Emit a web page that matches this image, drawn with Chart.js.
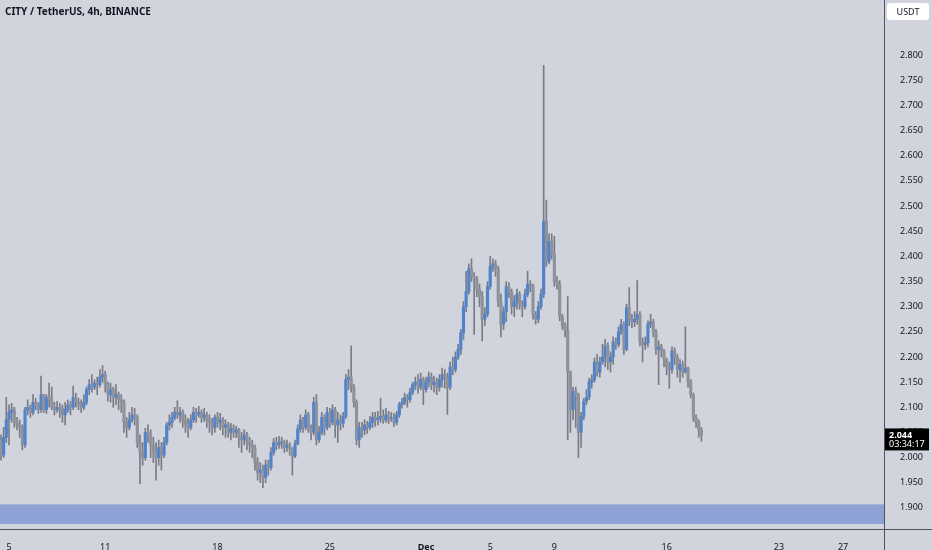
<!DOCTYPE html>
<html>
<head>
<meta charset="utf-8">
<script src="https://cdn.jsdelivr.net/npm/chart.js@4.4.1/dist/chart.umd.min.js"></script>
<style>
  html, body { margin: 0; padding: 0; background: #d1d4dc; }
  #wrap { width: 932px; height: 550px; }
</style>
</head>
<body>
<div id="wrap"><canvas id="chart" width="932" height="550"></canvas></div>
<script>
const symbolTitle = 'CITY / TetherUS, 4h, BINANCE';
const quoteUnit = 'USDT';
const barTimer = '03:34:17';

// x values are days counted from Nov 1 00:00, one candle every 4h
const firstCandleDay = 3.5;
const candleStep = 1 / 6;
const firstOpen = 2.035;

// one row per day (Nov 4 starts at 12:00, Dec 18 ends at 04:00)
const closes = [
  2.005, 2.040, 2.075,
  2.090, 2.095, 2.070, 2.065, 2.060, 2.025,
  2.095, 2.100, 2.090, 2.110, 2.105, 2.095,
  2.125, 2.095, 2.120, 2.115, 2.100, 2.095,
  2.100, 2.098, 2.085, 2.095, 2.105, 2.100,
  2.120, 2.110, 2.105, 2.100, 2.110, 2.135,
  2.145, 2.140, 2.148, 2.145, 2.160, 2.165,
  2.145, 2.125, 2.135, 2.120, 2.125, 2.115,
  2.110, 2.070, 2.060, 2.075, 2.085, 2.080,
  2.030, 2.010, 2.000, 2.050, 2.045, 2.025,
  2.010, 2.000, 2.020, 2.005, 2.030, 2.065,
  2.070, 2.080, 2.090, 2.085, 2.090, 2.075,
  2.065, 2.060, 2.075, 2.090, 2.085, 2.090,
  2.080, 2.085, 2.075, 2.070, 2.060, 2.080,
  2.070, 2.075, 2.060, 2.065, 2.050, 2.058,
  2.050, 2.055, 2.040, 2.035, 2.045, 2.030,
  2.025, 2.020, 1.990, 1.970, 1.975, 1.960,
  1.985, 1.980, 2.010, 2.030, 2.025, 2.030,
  2.030, 2.020, 2.025, 2.018, 2.003, 2.028,
  2.057, 2.075, 2.060, 2.085, 2.060, 2.050,
  2.110, 2.035, 2.050, 2.080, 2.060, 2.090,
  2.070, 2.095, 2.065, 2.075, 2.068, 2.082,
  2.155, 2.160, 2.140, 2.110, 2.035, 2.060,
  2.055, 2.065, 2.060, 2.070, 2.080, 2.075,
  2.078, 2.082, 2.075, 2.085, 2.078, 2.080,
  2.070, 2.085, 2.105, 2.110, 2.120, 2.115,
  2.130, 2.145, 2.150, 2.140, 2.155, 2.135,
  2.150, 2.160, 2.145, 2.150, 2.140, 2.155,
  2.165, 2.160, 2.140, 2.180, 2.175, 2.200,
  2.215, 2.248, 2.300, 2.330, 2.375, 2.360,
  2.355, 2.335, 2.320, 2.275, 2.285, 2.340,
  2.380, 2.385, 2.375, 2.310, 2.265, 2.290,
  2.340, 2.330, 2.300, 2.310, 2.325, 2.305,
  2.300, 2.325, 2.345, 2.342, 2.285, 2.275,
  2.300, 2.325, 2.470, 2.390, 2.430, 2.405,
  2.350, 2.345, 2.280, 2.262, 2.252, 2.170,
  2.095, 2.132, 2.125, 2.050, 2.082, 2.112,
  2.120, 2.150, 2.155, 2.190, 2.170, 2.190,
  2.200, 2.222, 2.190, 2.200, 2.230, 2.225,
  2.250, 2.265, 2.215, 2.298, 2.275, 2.270,
  2.275, 2.285, 2.230, 2.225, 2.228, 2.265,
  2.270, 2.250, 2.215, 2.220, 2.212, 2.195,
  2.180, 2.175, 2.212, 2.200, 2.175, 2.185,
  2.170, 2.178, 2.150, 2.125, 2.080, 2.070,
  2.055, 2.044
];

const highs = [
  2.045, 2.060, 2.120,
  2.105, 2.108, 2.100, 2.080, 2.075, 2.065,
  2.100, 2.115, 2.105, 2.125, 2.118, 2.110,
  2.162, 2.125, 2.125, 2.148, 2.140, 2.110,
  2.112, 2.108, 2.105, 2.110, 2.115, 2.112,
  2.142, 2.128, 2.118, 2.115, 2.125, 2.140,
  2.155, 2.165, 2.155, 2.160, 2.175, 2.183,
  2.172, 2.150, 2.148, 2.140, 2.145, 2.130,
  2.125, 2.115, 2.080, 2.090, 2.100, 2.098,
  2.085, 2.045, 2.030, 2.058, 2.065, 2.055,
  2.040, 2.030, 2.035, 2.030, 2.040, 2.070,
  2.085, 2.090, 2.100, 2.113, 2.100, 2.095,
  2.085, 2.078, 2.085, 2.100, 2.098, 2.102,
  2.095, 2.098, 2.090, 2.085, 2.078, 2.085,
  2.090, 2.088, 2.080, 2.075, 2.070, 2.068,
  2.065, 2.062, 2.058, 2.050, 2.055, 2.050,
  2.040, 2.035, 2.025, 2.000, 1.990, 1.985,
  1.995, 1.995, 2.020, 2.038, 2.040, 2.042,
  2.040, 2.035, 2.035, 2.030, 2.020, 2.035,
  2.065, 2.085, 2.080, 2.095, 2.090, 2.065,
  2.120, 2.125, 2.062, 2.090, 2.085, 2.100,
  2.098, 2.105, 2.100, 2.090, 2.085, 2.090,
  2.165, 2.175, 2.222, 2.145, 2.115, 2.070,
  2.070, 2.075, 2.072, 2.082, 2.090, 2.090,
  2.092, 2.118, 2.095, 2.098, 2.092, 2.090,
  2.088, 2.092, 2.110, 2.118, 2.128, 2.125,
  2.138, 2.150, 2.160, 2.165, 2.168, 2.160,
  2.160, 2.170, 2.168, 2.162, 2.158, 2.165,
  2.178, 2.175, 2.168, 2.190, 2.200, 2.210,
  2.225, 2.255, 2.310, 2.370, 2.385, 2.395,
  2.368, 2.360, 2.345, 2.330, 2.298, 2.350,
  2.400, 2.395, 2.392, 2.380, 2.325, 2.300,
  2.350, 2.348, 2.335, 2.322, 2.335, 2.330,
  2.312, 2.335, 2.370, 2.352, 2.345, 2.290,
  2.310, 2.335, 2.780, 2.512, 2.445, 2.445,
  2.440, 2.360, 2.352, 2.285, 2.268, 2.320,
  2.172, 2.140, 2.140, 2.128, 2.090, 2.118,
  2.135, 2.158, 2.165, 2.198, 2.205, 2.200,
  2.225, 2.235, 2.228, 2.210, 2.240, 2.238,
  2.260, 2.275, 2.270, 2.305, 2.338, 2.285,
  2.290, 2.352, 2.290, 2.238, 2.240, 2.272,
  2.285, 2.275, 2.255, 2.232, 2.225, 2.215,
  2.198, 2.190, 2.220, 2.218, 2.205, 2.195,
  2.192, 2.260, 2.180, 2.155, 2.128, 2.085,
  2.075, 2.060
];

const lows = [
  1.995, 2.000, 2.030,
  2.025, 2.070, 2.060, 2.055, 2.040, 2.015,
  2.020, 2.085, 2.080, 2.085, 2.095, 2.088,
  2.090, 2.090, 2.088, 2.100, 2.095, 2.085,
  2.090, 2.080, 2.070, 2.065, 2.090, 2.085,
  2.095, 2.100, 2.095, 2.090, 2.095, 2.105,
  2.125, 2.130, 2.135, 2.125, 2.140, 2.150,
  2.130, 2.112, 2.110, 2.100, 2.105, 2.095,
  2.090, 2.050, 2.040, 2.055, 2.070, 2.065,
  2.020, 1.948, 1.985, 1.995, 2.030, 2.000,
  1.990, 1.955, 1.985, 1.975, 2.000, 2.025,
  2.055, 2.060, 2.075, 2.078, 2.070, 2.060,
  2.050, 2.040, 2.055, 2.070, 2.070, 2.080,
  2.070, 2.072, 2.060, 2.050, 2.045, 2.050,
  2.060, 2.055, 2.045, 2.040, 2.040, 2.035,
  2.040, 2.040, 2.020, 2.010, 2.025, 2.015,
  2.010, 2.000, 1.975, 1.955, 1.950, 1.940,
  1.950, 1.965, 1.975, 2.005, 2.015, 2.018,
  2.018, 2.010, 2.012, 2.005, 1.965, 2.000,
  2.025, 2.050, 2.050, 2.055, 2.050, 2.035,
  2.045, 2.025, 2.030, 2.045, 2.045, 2.055,
  2.060, 2.065, 2.040, 2.030, 2.055, 2.060,
  2.078, 2.135, 2.130, 2.100, 2.025, 2.020,
  2.040, 2.045, 2.048, 2.055, 2.060, 2.062,
  2.065, 2.070, 2.068, 2.070, 2.068, 2.072,
  2.062, 2.065, 2.080, 2.098, 2.105, 2.100,
  2.110, 2.125, 2.135, 2.128, 2.135, 2.105,
  2.130, 2.140, 2.135, 2.130, 2.125, 2.132,
  2.140, 2.138, 2.086, 2.135, 2.165, 2.170,
  2.195, 2.205, 2.235, 2.290, 2.325, 2.350,
  2.245, 2.320, 2.300, 2.232, 2.262, 2.280,
  2.335, 2.370, 2.360, 2.300, 2.240, 2.255,
  2.270, 2.318, 2.285, 2.280, 2.295, 2.295,
  2.280, 2.295, 2.320, 2.330, 2.275, 2.265,
  2.268, 2.295, 2.318, 2.380, 2.385, 2.395,
  2.340, 2.335, 2.272, 2.255, 2.240, 2.035,
  2.050, 2.075, 2.060, 2.000, 2.020, 2.075,
  2.105, 2.115, 2.138, 2.150, 2.162, 2.160,
  2.185, 2.180, 2.175, 2.170, 2.185, 2.215,
  2.220, 2.245, 2.205, 2.212, 2.262, 2.258,
  2.260, 2.265, 2.222, 2.190, 2.215, 2.220,
  2.258, 2.240, 2.205, 2.145, 2.200, 2.180,
  2.165, 2.138, 2.168, 2.185, 2.160, 2.150,
  2.160, 2.168, 2.140, 2.118, 2.072, 2.060,
  2.040, 2.032
];

const xTickDays = [4, 10, 17, 24, 30, 34, 38, 45, 52, 56];
const xTickLabels = ['5', '11', '18', '25', 'Dec', '5', '9', '16', '23', '27'];
const yTickValues = [1.90, 1.95, 2.00, 2.05, 2.10, 2.15, 2.20, 2.25, 2.30, 2.35,
                     2.40, 2.45, 2.50, 2.55, 2.60, 2.65, 2.70, 2.75, 2.80];
const demandZone = [1.868, 1.907];

const FONT = '"Noto Sans", "DejaVu Sans", sans-serif';
const TEXT = '#131722';
const BG = '#d1d4dc';

const bodies = [];
const wicks = [];
const bodyColors = [];
closes.forEach((c, i) => {
    const o = i === 0 ? firstOpen : closes[i - 1];
    const t = firstCandleDay + i * candleStep;
    bodies.push({ x: t, y: [o, c] });
    wicks.push({ x: t, y: [Math.min(lows[i], o, c), Math.max(highs[i], o, c)] });
    bodyColors.push(c >= o ? '#5183cc' : '#8f929b');
});

const background = {
    id: 'background',
    beforeDraw(chart) {
        const ctx = chart.ctx;
        ctx.save();
        ctx.fillStyle = BG;
        ctx.fillRect(0, 0, chart.width, chart.height);
        ctx.restore();
    }
};

const zoneBand = {
    id: 'zoneBand',
    beforeDatasetsDraw(chart) {
        const { ctx, chartArea, scales } = chart;
        const top = scales.y.getPixelForValue(demandZone[1]);
        const bottom = scales.y.getPixelForValue(demandZone[0]);
        ctx.save();
        ctx.fillStyle = '#8fa2d6';
        ctx.fillRect(chartArea.left, top, chartArea.right - chartArea.left, bottom - top);
        ctx.restore();
    }
};

const overlay = {
    id: 'overlay',
    afterDraw(chart) {
        const { ctx, chartArea, scales } = chart;
        ctx.save();

        // axis frame lines
        ctx.strokeStyle = '#50535e';
        ctx.lineWidth = 1;
        ctx.beginPath();
        ctx.moveTo(Math.round(chartArea.right) + 0.5, 0);
        ctx.lineTo(Math.round(chartArea.right) + 0.5, chart.height);
        ctx.moveTo(0, Math.round(chartArea.bottom) + 0.5);
        ctx.lineTo(chart.width, Math.round(chartArea.bottom) + 0.5);
        ctx.stroke();

        // symbol title
        ctx.fillStyle = TEXT;
        ctx.font = 'bold 10px ' + FONT;
        ctx.textAlign = 'left';
        ctx.textBaseline = 'middle';
        ctx.fillText(symbolTitle, 5, 12);

        // currency box
        const bx = chartArea.right + 3;
        ctx.fillStyle = '#ffffff';
        ctx.beginPath();
        ctx.roundRect(bx, 3, 42, 17, 3);
        ctx.fill();
        ctx.fillStyle = TEXT;
        ctx.font = '9px ' + FONT;
        ctx.textAlign = 'center';
        ctx.fillText(quoteUnit, bx + 21, 12);

        // last price label
        const last = closes[closes.length - 1];
        const py = scales.y.getPixelForValue(last);
        ctx.fillStyle = '#000000';
        ctx.fillRect(chartArea.right + 1, py - 7, 44, 22);
        ctx.fillStyle = '#ffffff';
        ctx.textAlign = 'left';
        ctx.font = 'bold 9px ' + FONT;
        ctx.fillText(last.toFixed(3), chartArea.right + 5, py);
        ctx.font = '9px ' + FONT;
        ctx.fillText(barTimer, chartArea.right + 5, py + 9);

        ctx.restore();
    }
};

new Chart(document.getElementById('chart'), {
    type: 'bar',
    data: {
        datasets: [
            {
                label: 'body',
                data: bodies,
                backgroundColor: bodyColors,
                borderWidth: 0,
                barThickness: 2.5,
                minBarLength: 1,
                grouped: false,
                order: 0
            },
            {
                label: 'wick',
                data: wicks,
                backgroundColor: '#797c86',
                borderWidth: 0,
                barThickness: 1,
                minBarLength: 1,
                grouped: false,
                order: 1
            }
        ]
    },
    options: {
        responsive: false,
        animation: false,
        devicePixelRatio: 1,
        layout: { padding: 0 },
        plugins: {
            legend: { display: false },
            tooltip: { enabled: false }
        },
        scales: {
            x: {
                type: 'linear',
                offset: false,
                min: 3.44,
                max: 58.55,
                grid: { display: false, offset: false },
                border: { display: false },
                afterBuildTicks: (scale) => {
                    scale.ticks = xTickDays.map(v => ({ value: v }));
                },
                afterFit: (scale) => { scale.height = 21; },
                ticks: {
                    autoSkip: false,
                    maxRotation: 0,
                    padding: 5,
                    color: TEXT,
                    font: (ctx) => ({
                        family: FONT,
                        size: 9,
                        weight: ctx.tick && ctx.tick.value === 30 ? 'bold' : 'normal'
                    }),
                    callback: (v) => xTickLabels[xTickDays.indexOf(v)]
                }
            },
            y: {
                position: 'right',
                min: 1.858,
                max: 2.883,
                grid: { display: false },
                border: { display: false },
                afterBuildTicks: (scale) => {
                    scale.ticks = yTickValues.map(v => ({ value: v }));
                },
                afterFit: (scale) => { scale.width = 48; },
                ticks: {
                    padding: 8,
                    color: TEXT,
                    font: { family: FONT, size: 9 },
                    callback: (v) => v.toFixed(3)
                }
            }
        }
    },
    plugins: [background, zoneBand, overlay]
});
</script>
</body>
</html>
